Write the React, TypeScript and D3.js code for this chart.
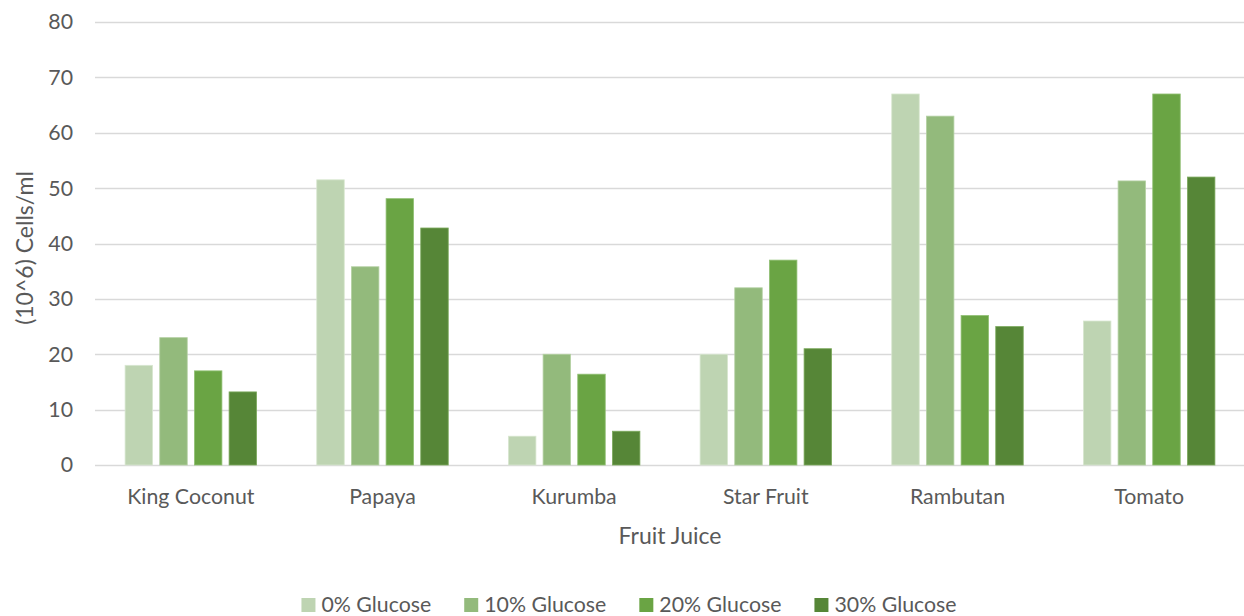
import React, { useEffect, useRef } from "react";
import * as d3 from "d3";

// Cell counts per fruit juice at each glucose level
const categories = ["King Coconut", "Papaya", "Kurumba", "Star Fruit", "Rambutan", "Tomato"];
const seriesNames = ["0% Glucose", "10% Glucose", "20% Glucose", "30% Glucose"];
const glucose0 = [18, 51.5, 5.2, 20, 67, 26];
const glucose10 = [23, 35.8, 20, 32, 63, 51.3];
const glucose20 = [17, 48.1, 16.4, 37, 27, 67];
const glucose30 = [13.2, 42.8, 6.1, 21, 25, 52];
const yTicks = [0, 10, 20, 30, 40, 50, 60, 70, 80];

const seriesValues = [glucose0, glucose10, glucose20, glucose30];
const colors = ["#BED4B2", "#93BA7C", "#6AA444", "#568637"];
const strokes = ["#D8E7D0", "#B5D1A4", "#92C075", "#7DAA5E"];

const W = 1244;
const H = 616;
const FONT = "Lato, 'Open Sans', sans-serif";
const TEXT = "#595959";
const LABEL_SIZE = 21.3;
const TITLE_SIZE = 23;

export default function App() {
  const ref = useRef<SVGSVGElement | null>(null);

  useEffect(() => {
    document.body.style.margin = "0";
    const svg = d3.select(ref.current);
    svg.selectAll("*").remove();

    const left = 95;
    const right = 1245;
    const top = 22;
    const bottom = 465;

    const y = d3.scaleLinear().domain([0, 80]).range([bottom, top]);
    const x0 = d3.scaleBand<string>().domain(categories).range([left, right]).paddingInner(0).paddingOuter(0);
    const groupW = x0.bandwidth() * 0.686;
    const x1 = d3
      .scaleBand<string>()
      .domain(seriesNames)
      .range([0, groupW])
      .paddingInner(0.207)
      .paddingOuter(0);

    // gridlines
    svg
      .append("g")
      .selectAll("line")
      .data(yTicks)
      .join("line")
      .attr("x1", left)
      .attr("x2", right)
      .attr("y1", (d) => Math.round(y(d)) + 0.5)
      .attr("y2", (d) => Math.round(y(d)) + 0.5)
      .attr("stroke", "#D9D9D9")
      .attr("stroke-width", 1.5);

    // y tick labels
    svg
      .append("g")
      .selectAll("text")
      .data(yTicks)
      .join("text")
      .attr("x", 73)
      .attr("y", (d) => y(d))
      .attr("dy", "0.35em")
      .attr("text-anchor", "end")
      .attr("font-family", FONT)
      .attr("font-size", LABEL_SIZE)
      .attr("fill", TEXT)
      .text((d) => String(d));

    // bars
    const groups = svg
      .append("g")
      .selectAll("g")
      .data(categories)
      .join("g")
      .attr("transform", (c) => `translate(${(x0(c) as number) + (x0.bandwidth() - groupW) / 2},0)`);

    groups
      .selectAll("rect")
      .data((c, ci) => seriesNames.map((s, si) => ({ s, si, v: seriesValues[si][ci] })))
      .join("rect")
      .attr("x", (d) => x1(d.s) as number)
      .attr("width", x1.bandwidth())
      .attr("y", (d) => y(d.v))
      .attr("height", (d) => bottom - y(d.v))
      .attr("fill", (d) => colors[d.si])
      .attr("stroke", (d) => strokes[d.si])
      .attr("stroke-width", 0.8);

    // category labels
    svg
      .append("g")
      .selectAll("text")
      .data(categories)
      .join("text")
      .attr("x", (c) => (x0(c) as number) + x0.bandwidth() / 2)
      .attr("y", 497)
      .attr("dy", "0.35em")
      .attr("text-anchor", "middle")
      .attr("font-family", FONT)
      .attr("font-size", LABEL_SIZE)
      .attr("fill", TEXT)
      .text((c) => c);

    // axis titles
    svg
      .append("text")
      .attr("x", 670)
      .attr("y", 536)
      .attr("dy", "0.35em")
      .attr("text-anchor", "middle")
      .attr("font-family", FONT)
      .attr("font-size", TITLE_SIZE)
      .attr("fill", TEXT)
      .text("Fruit Juice");

    svg
      .append("text")
      .attr("transform", `translate(25,248) rotate(-90)`)
      .attr("dy", "0.35em")
      .attr("text-anchor", "middle")
      .attr("font-family", FONT)
      .attr("font-size", TITLE_SIZE)
      .attr("fill", TEXT)
      .text("(10^6) Cells/ml");

    // legend, centred as a row
    const legend = svg.append("g");
    const items = legend
      .selectAll("g")
      .data(seriesNames)
      .join("g");
    items
      .append("rect")
      .attr("width", 14)
      .attr("height", 14)
      .attr("y", 598)
      .attr("fill", (_, i) => colors[i]);
    items
      .append("text")
      .attr("x", 20)
      .attr("y", 605)
      .attr("dy", "0.35em")
      .attr("font-family", FONT)
      .attr("font-size", LABEL_SIZE)
      .attr("fill", TEXT)
      .text((d) => d);
    const gap = 33;
    let cursor = 0;
    const widths: number[] = [];
    items.each(function () {
      const t = d3.select(this).select("text").node() as SVGTextElement;
      widths.push(20 + t.getComputedTextLength());
    });
    const total = d3.sum(widths) + gap * (widths.length - 1);
    const start = 629 - total / 2;
    items.attr("transform", (_, i) => {
      const xPos = start + cursor;
      cursor += widths[i] + gap;
      return `translate(${xPos},0)`;
    });
  }, []);

  return <svg ref={ref} width={W} height={H} style={{ display: "block", background: "#fff" }} />;
}
